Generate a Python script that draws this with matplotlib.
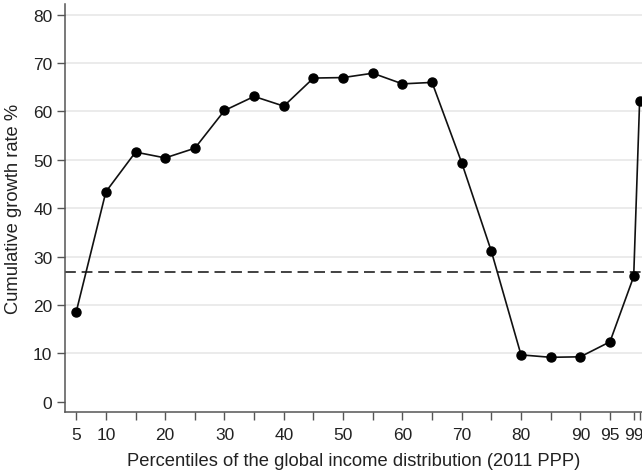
import matplotlib
matplotlib.use("Agg")
import matplotlib.pyplot as plt

plt.rcParams['font.family'] = ['Liberation Sans', 'DejaVu Sans']

# cumulative real income growth by global percentile
percentiles = [5, 10, 15, 20, 25, 30, 35, 40, 45, 50, 55, 60, 65, 70, 75, 80, 85, 90, 95, 99, 100]
growth = [18.6, 43.4, 51.6, 50.4, 52.4, 60.2, 63.1, 61.1, 66.9, 67.0, 67.9, 65.7, 66.0,
          49.4, 31.1, 9.7, 9.2, 9.3, 12.4, 25.9, 62.2]
mean_growth = 26.8

xtick_pos = [5, 10, 15, 20, 25, 30, 35, 40, 45, 50, 55, 60, 65, 70, 75, 80, 85, 90, 95, 99, 100]
xtick_lab = ["5", "10", "", "20", "", "30", "", "40", "", "50", "", "60", "", "70", "",
             "80", "", "90", "95", "99", ""]
ytick_pos = [0, 10, 20, 30, 40, 50, 60, 70, 80]

fig = plt.figure(figsize=(6.42, 4.77), dpi=100)
ax = fig.add_axes([0.1012, 0.1342, 0.8988, 0.8553])

ax.set_xlim(3.1, 100.4)
ax.set_ylim(-2.1, 82.2)

for y in ytick_pos[1:]:
    ax.axhline(y, color="#e6e6e6", lw=1.1, zorder=0)

ax.axhline(mean_growth, color="#333333", lw=1.3, ls=(0, (6, 3.2)), zorder=1)
ax.plot(percentiles, growth, color="#111111", lw=1.2, marker="o", ms=6.5,
        markerfacecolor="black", markeredgecolor="black", zorder=3, clip_on=False)

ax.set_xticks(xtick_pos)
ax.set_xticklabels(xtick_lab)
ax.set_yticks(ytick_pos)

for side in ["top", "right"]:
    ax.spines[side].set_visible(False)
for side in ["left", "bottom"]:
    ax.spines[side].set_color("#555555")
    ax.spines[side].set_linewidth(1.1)

ax.tick_params(axis="both", colors="#555555", length=6, width=1.0, labelsize=12.5,
               labelcolor="#222222", pad=3)
ax.tick_params(axis="x", pad=5)

ax.set_xlabel("Percentiles of the global income distribution (2011 PPP)",
              fontsize=13.2, color="#222222", labelpad=7)
ax.set_ylabel("Cumulative growth rate %", fontsize=13.2, color="#222222", labelpad=8)

fig.savefig("out.png", dpi=100)
